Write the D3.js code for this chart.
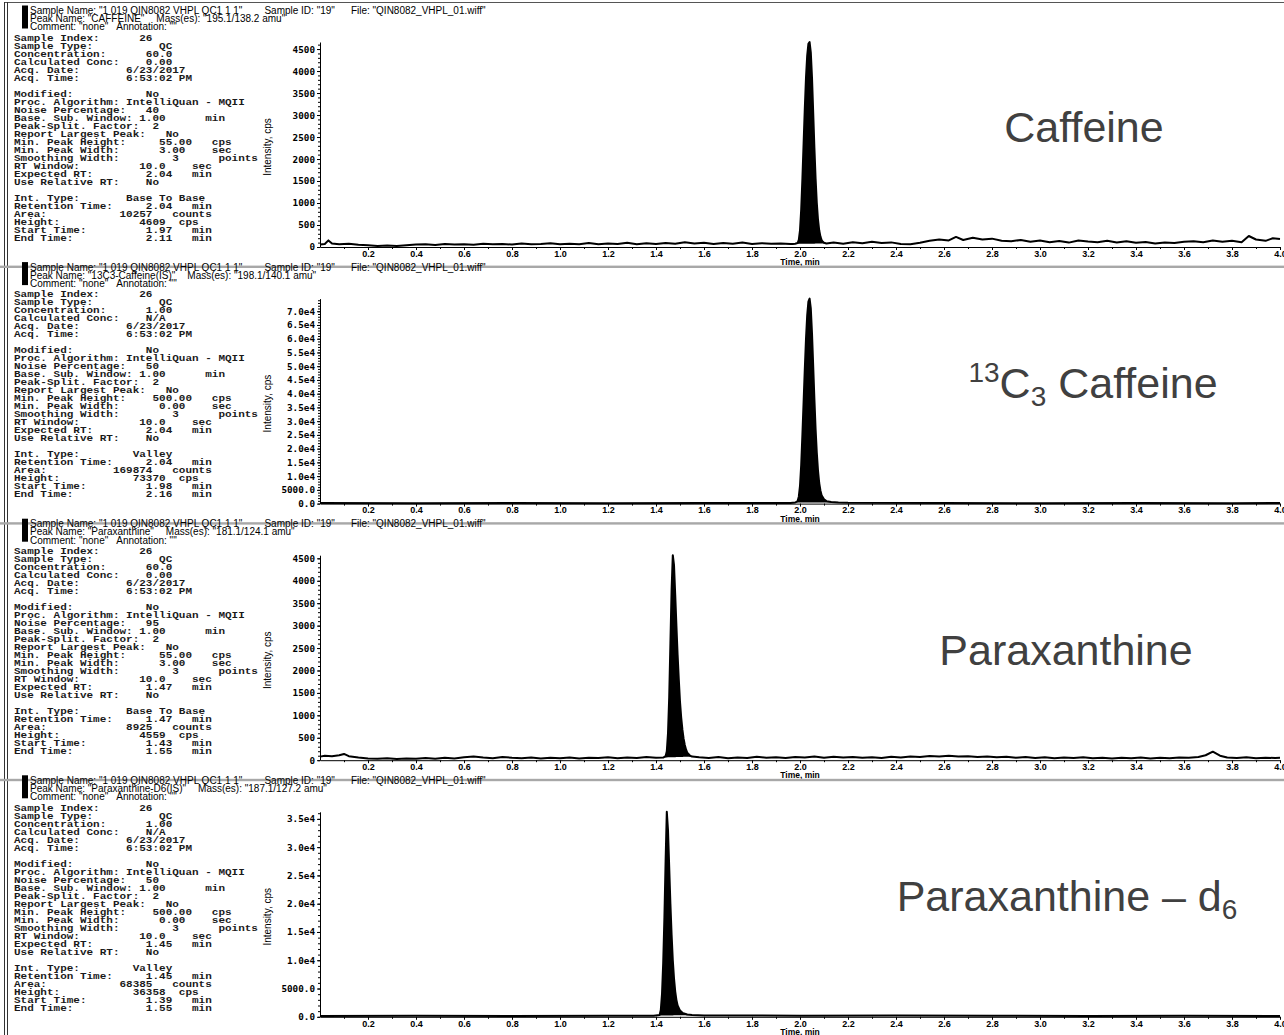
<!DOCTYPE html>
<html>
<head>
<meta charset="utf-8">
<script src="https://cdn.jsdelivr.net/npm/d3@7"></script>
<style>
body{margin:0;background:#fff;}
svg{display:block;}
.info{font-family:"Liberation Mono","Courier New",monospace;font-size:9.5px;font-weight:bold;white-space:pre;fill:#1a1a1a;}
.hdr{font-family:"Liberation Sans",Arial,sans-serif;font-size:10px;white-space:pre;fill:#000;}
.tick text{font-family:"Liberation Sans",Arial,sans-serif;font-size:9px;font-weight:bold;fill:#000;}
.yaxis .tick text{font-family:"DejaVu Sans Mono","Liberation Mono",monospace;font-size:9.3px;}
.axis path,.axis line{stroke:#000;stroke-width:1;}
.ylab{font-family:"Liberation Sans Narrow","Liberation Sans",Arial,sans-serif;font-size:10px;}
.xlab{font-family:"Liberation Sans",Arial,sans-serif;font-size:8.5px;font-weight:bold;}
.compound{font-family:"Liberation Sans",Arial,sans-serif;font-size:43px;fill:#404040;}
</style>
</head>
<body>
<div id="chart"></div>
<script>
// ---- chromatogram traces, [time (min), intensity (cps)] ----
const caffeineTrace = [
  [0.00,55],[0.02,70],[0.035,150],[0.05,80],[0.08,60],[0.12,75],[0.16,50],[0.20,40],[0.24,25],[0.28,35],
  [0.32,20],[0.36,40],[0.40,55],[0.44,60],[0.48,45],[0.52,70],[0.56,55],[0.60,65],[0.64,50],[0.68,75],
  [0.72,60],[0.76,70],[0.80,55],[0.84,80],[0.88,60],[0.92,70],[0.96,85],[1.00,60],[1.04,75],[1.08,65],
  [1.12,90],[1.16,60],[1.20,80],[1.24,70],[1.28,95],[1.32,65],[1.36,85],[1.40,70],[1.44,90],[1.48,75],
  [1.52,110],[1.56,80],[1.60,95],[1.64,70],[1.68,90],[1.72,75],[1.76,100],[1.80,70],[1.84,85],[1.88,75],
  [1.92,80],[1.96,70],[1.97,70],[1.98,75],[1.99,90],[1.995,160],[2.00,380],[2.005,850],[2.01,1550],
  [2.015,2350],[2.02,3150],[2.025,3850],[2.03,4350],[2.035,4620],[2.04,4660],[2.045,4420],[2.05,3850],
  [2.055,3050],[2.06,2250],[2.065,1550],[2.07,1000],[2.075,620],[2.08,380],[2.085,240],[2.09,160],
  [2.095,120],[2.10,95],[2.11,80],[2.14,100],[2.18,75],[2.22,110],[2.26,85],[2.30,120],[2.34,90],
  [2.38,105],[2.42,70],[2.46,60],[2.50,95],[2.54,140],[2.58,170],[2.62,150],[2.65,230],[2.68,160],
  [2.72,210],[2.76,170],[2.80,190],[2.84,140],[2.88,130],[2.92,160],[2.96,120],[3.00,150],[3.04,110],
  [3.08,135],[3.12,100],[3.16,150],[3.20,125],[3.24,110],[3.28,140],[3.32,100],[3.36,130],[3.40,95],
  [3.44,115],[3.48,80],[3.52,100],[3.56,90],[3.60,120],[3.64,130],[3.68,110],[3.72,150],[3.76,120],
  [3.80,140],[3.84,110],[3.87,250],[3.90,170],[3.94,140],[3.97,200],[4.00,180]
];
const c13CaffeineTrace = [
  [0.00,200],[0.40,150],[0.80,200],[1.20,150],[1.60,200],[1.96,250],[1.98,400],[1.99,900],[1.995,2500],
  [2.00,6500],[2.005,14000],[2.01,25000],[2.015,37000],[2.02,49000],[2.025,60000],[2.03,68500],
  [2.035,73500],[2.04,74600],[2.045,71000],[2.05,62000],[2.055,50000],[2.06,38000],[2.065,27000],
  [2.07,18500],[2.075,12000],[2.08,7500],[2.085,4800],[2.09,3000],[2.10,1600],[2.11,900],[2.13,600],
  [2.16,400],[2.20,300],[2.60,200],[3.00,150],[3.40,200],[3.80,150],[4.00,200]
];
const paraxanthineTrace = [
  [0.00,80],[0.02,100],[0.05,90],[0.08,110],[0.10,140],[0.12,90],[0.16,60],[0.20,40],[0.24,30],[0.28,45],
  [0.32,25],[0.36,40],[0.40,35],[0.44,50],[0.48,30],[0.52,55],[0.56,40],[0.60,65],[0.64,80],[0.68,60],
  [0.72,45],[0.76,70],[0.80,55],[0.84,45],[0.88,60],[0.92,40],[0.96,55],[1.00,45],[1.04,60],[1.08,40],
  [1.12,55],[1.16,50],[1.20,65],[1.24,45],[1.28,60],[1.32,50],[1.36,70],[1.40,55],[1.43,60],[1.44,90],
  [1.445,200],[1.45,600],[1.455,1400],[1.46,2600],[1.465,3800],[1.47,4570],[1.475,4350],[1.48,3700],
  [1.485,3000],[1.49,2350],[1.495,1800],[1.50,1300],[1.505,950],[1.51,680],[1.515,480],[1.52,340],
  [1.525,240],[1.53,170],[1.54,110],[1.55,80],[1.58,65],[1.62,50],[1.66,70],[1.70,45],[1.74,60],
  [1.78,50],[1.82,75],[1.86,55],[1.90,65],[1.94,50],[1.98,70],[2.02,60],[2.06,80],[2.10,55],[2.14,75],
  [2.18,60],[2.22,70],[2.26,55],[2.30,65],[2.34,50],[2.38,75],[2.42,60],[2.46,80],[2.50,70],[2.54,95],
  [2.58,85],[2.62,100],[2.66,80],[2.70,90],[2.74,70],[2.78,85],[2.82,65],[2.86,75],[2.90,55],[2.94,70],
  [2.98,50],[3.02,65],[3.06,45],[3.10,60],[3.14,50],[3.18,65],[3.22,45],[3.26,55],[3.30,40],[3.34,55],
  [3.38,45],[3.42,60],[3.46,40],[3.50,55],[3.54,45],[3.58,60],[3.62,55],[3.66,70],[3.69,110],[3.72,190],
  [3.75,100],[3.78,60],[3.82,50],[3.86,65],[3.90,45],[3.94,55],[3.98,50],[4.00,55]
];
const paraxanthineD6Trace = [
  [0.00,150],[0.40,200],[0.80,150],[1.20,200],[1.39,200],[1.415,300],[1.42,1200],[1.425,4000],
  [1.43,9500],[1.435,17500],[1.44,27500],[1.445,36250],[1.45,33000],[1.455,26500],[1.46,20000],
  [1.465,14500],[1.47,10000],[1.475,6800],[1.48,4500],[1.485,3000],[1.49,2000],[1.50,1100],[1.51,700],
  [1.53,400],[1.55,300],[1.60,250],[2.00,200],[2.40,250],[2.80,200],[3.20,150],[3.60,200],[4.00,150]
];

// ---- axis ticks and labels ----
const xTicks = [0.2,0.4,0.6,0.8,1.0,1.2,1.4,1.6,1.8,2.0,2.2,2.4,2.6,2.8,3.0,3.2,3.4,3.6,3.8,4.0];
const xTickLabels = ['0.2','0.4','0.6','0.8','1.0','1.2','1.4','1.6','1.8','2.0','2.2','2.4','2.6','2.8','3.0','3.2','3.4','3.6','3.8','4.0'];
const yTicksSmall = [0,500,1000,1500,2000,2500,3000,3500,4000,4500];
const yTickLabelsSmall = ['0','500','1000','1500','2000','2500','3000','3500','4000','4500'];
const yTicksC13 = [0,5000,10000,15000,20000,25000,30000,35000,40000,45000,50000,55000,60000,65000,70000];
const yTickLabelsC13 = ['0.0','5000.0','1.0e4','1.5e4','2.0e4','2.5e4','3.0e4','3.5e4','4.0e4','4.5e4','5.0e4','5.5e4','6.0e4','6.5e4','7.0e4'];
const yTicksD6 = [0,5000,10000,15000,20000,25000,30000,35000];
const yTickLabelsD6 = ['0.0','5000.0','1.0e4','1.5e4','2.0e4','2.5e4','3.0e4','3.5e4'];
const yMax = [4660, 74600, 4570, 36250];
const yMinorStep = [100, 1000, 100, 1000];

// ---- per-peak results ----
const peakNames = ['"CAFFEINE"','"13C3-Caffeine(IS)"','"Paraxanthine"','"Paraxanthine-D6(IS)"'];
const masses = ['"195.1/138.2 amu"','"198.1/140.1 amu"','"181.1/124.1 amu"','"187.1/127.2 amu"'];
const concentrations = ['60.0','1.00','60.0','1.00'];
const calcConcs = ['0.00','N/A','0.00','N/A'];
const noisePct = ['40','50','95','50'];
const minPeakHeights = ['55.00','500.00','55.00','500.00'];
const minPeakWidths = ['3.00','0.00','3.00','0.00'];
const expectedRT = ['2.04','2.04','1.47','1.45'];
const intTypes = ['Base To Base','Valley','Base To Base','Valley'];
const retentionTimes = ['2.04','2.04','1.47','1.45'];
const areas = ['10257','169874','8925','68385'];
const heights = ['4609','73370','4559','36358'];
const startTimes = [1.97, 1.98, 1.43, 1.39];
const endTimes = [2.11, 2.16, 1.55, 1.55];

const traces = [caffeineTrace, c13CaffeineTrace, paraxanthineTrace, paraxanthineD6Trace];
const yTicksAll = [yTicksSmall, yTicksC13, yTicksSmall, yTicksD6];
const yLabelsAll = [yTickLabelsSmall, yTickLabelsC13, yTickLabelsSmall, yTickLabelsD6];

// compound names drawn at the right, [text, 'sup' | 'sub' | null]
const compoundLabels = [
  [['Caffeine', null]],
  [['13','sup'],['C',null],['3','sub'],[' Caffeine',null]],
  [['Paraxanthine', null]],
  [['Paraxanthine \u2013 d', null],['6','sub']]
];
const labelPos = [[1084,141.5],[1093,141],[1066,151.5],[1067,141.5]];

const W = 1284, H = 1035, panelH = 256.6;
const charW = 6.6, infoX = 14;

function row(label, vcol, value, ucol, unit){
  let s = label.padEnd(vcol) + (value || '');
  if (unit) s = s.padEnd(ucol) + unit;
  return s;
}

function infoLines(k){
  return [
    row('Sample Index:', 19, '26'),
    row('Sample Type:', 22, 'QC'),
    row('Concentration:', 20, concentrations[k]),
    row('Calculated Conc:', 20, calcConcs[k]),
    row('Acq. Date:', 17, '6/23/2017'),
    row('Acq. Time:', 17, '6:53:02 PM'),
    '',
    row('Modified:', 20, 'No'),
    row('Proc. Algorithm:', 17, 'IntelliQuan - MQII'),
    row('Noise Percentage:', 20, noisePct[k]),
    row('Base. Sub. Window:', 19, '1.00', 29, 'min'),
    row('Peak-Split. Factor:', 21, '2'),
    row('Report Largest Peak:', 23, 'No'),
    row('Min. Peak Height:', 27 - minPeakHeights[k].length, minPeakHeights[k], 30, 'cps'),
    row('Min. Peak Width:', 22, minPeakWidths[k], 30, 'sec'),
    row('Smoothing Width:', 24, '3', 31, 'points'),
    row('RT Window:', 19, '10.0', 27, 'sec'),
    row('Expected RT:', 20, expectedRT[k], 27, 'min'),
    row('Use Relative RT:', 20, 'No'),
    '',
    row('Int. Type:', intTypes[k] === 'Valley' ? 18 : 17, intTypes[k]),
    row('Retention Time:', 20, retentionTimes[k], 27, 'min'),
    row('Area:', 21 - areas[k].length, areas[k], 24, 'counts'),
    row('Height:', 23 - heights[k].length, heights[k], 25, 'cps'),
    row('Start Time:', 20, startTimes[k].toFixed(2), 27, 'min'),
    row('End Time:', 20, endTimes[k].toFixed(2), 27, 'min')
  ];
}

const svg = d3.select('#chart').append('svg').attr('width', W).attr('height', H);
svg.append('rect').attr('width', W).attr('height', H).attr('fill', '#fff');

// outer frame: top rule and double left rule
svg.append('line').attr('x1', 4).attr('x2', W).attr('y1', 2.5).attr('y2', 2.5).attr('stroke', '#555');
[4.5, 7.5].forEach(xv => svg.append('line').attr('x1', xv).attr('x2', xv)
  .attr('y1', 2).attr('y2', H).attr('stroke', '#333'));

const x = d3.scaleLinear().domain([0, 4]).range([320, 1280]);
// monospace scale so that one character cell is charW wide
const monoScale = charW / (9.5 * 0.6);

// place a text after another one with a gap
function after(g, prev, gap, yy, txt){
  const x0 = +prev.attr('x') + prev.node().getComputedTextLength() + gap;
  return g.append('text').attr('class', 'hdr').attr('x', x0).attr('y', yy).text(txt);
}

traces.forEach((trace, k) => {
  const g = svg.append('g').attr('transform', `translate(0,${k * panelH})`);
  const y = d3.scaleLinear().domain([0, yMax[k]]).range([247, 42]);

  // header
  g.append('rect').attr('x', 22).attr('y', 5.5).attr('width', 6).attr('height', 23).attr('fill', '#000');
  const s1 = g.append('text').attr('class', 'hdr').attr('x', 30).attr('y', 14).text('Sample Name: "1 019 QIN8082 VHPL QC1 1 1"');
  const s2 = after(g, s1, 22, 14, 'Sample ID: "19"');
  after(g, s2, 16, 14, 'File: "QIN8082_VHPL_01.wiff"');
  const p1 = g.append('text').attr('class', 'hdr').attr('x', 30).attr('y', 22.2).text('Peak Name: ' + peakNames[k]);
  after(g, p1, 12, 22.2, 'Mass(es): ' + masses[k]);
  const c1 = g.append('text').attr('class', 'hdr').attr('x', 30).attr('y', 30.4).text('Comment: "none"');
  after(g, c1, 8, 30.4, 'Annotation: ""');

  // info block (monospace, stretched horizontally like the instrument print-out)
  g.append('g').attr('transform', `translate(${infoX},0) scale(${monoScale},1)`)
    .selectAll('text').data(infoLines(k)).join('text')
    .attr('class', 'info').attr('x', 0).attr('y', (d, i) => 40.8 + 8 * i).text(d => d);

  // y axis
  const yMinor = d3.range(0, yMax[k], yMinorStep[k]);
  g.append('g').attr('class', 'axis').attr('transform', 'translate(320,0)')
    .call(d3.axisLeft(y).tickValues(yMinor).tickSize(2).tickFormat(''))
    .call(a => a.select('.domain').remove());
  g.append('g').attr('class', 'axis yaxis').attr('transform', 'translate(320,0)')
    .call(d3.axisLeft(y).tickValues(yTicksAll[k]).tickFormat((d, i) => yLabelsAll[k][i])
      .tickSize(3).tickSizeOuter(0).tickPadding(2))
    .call(a => a.attr('font-family', null).attr('font-size', null));

  // x axis
  g.append('g').attr('class', 'axis').attr('transform', 'translate(0,247)')
    .call(d3.axisBottom(x).tickValues(d3.range(0.1, 4.0, 0.2)).tickSize(2).tickFormat(''))
    .call(a => a.select('.domain').remove());
  g.append('g').attr('class', 'axis').attr('transform', 'translate(0,247)')
    .call(d3.axisBottom(x).tickValues(xTicks).tickFormat((d, i) => xTickLabels[i])
      .tickSize(3).tickSizeOuter(0).tickPadding(0.5))
    .call(a => a.attr('font-family', null).attr('font-size', null));

  g.append('text').attr('class', 'xlab').attr('x', x(2.0)).attr('y', 265.2)
    .attr('text-anchor', 'middle').text('Time, min');
  g.append('text').attr('class', 'ylab')
    .attr('transform', `translate(271,147) rotate(-90)`)
    .attr('text-anchor', 'middle').text('Intensity, cps');

  // integrated area (base to base between start and end)
  const inPeak = trace.filter(d => d[0] >= startTimes[k] && d[0] <= endTimes[k]);
  const q0 = inPeak[0], q1 = inPeak[inPeak.length - 1];
  const base = t => q0[1] + (q1[1] - q0[1]) * (t - q0[0]) / (q1[0] - q0[0]);
  g.append('path').datum(inPeak)
    .attr('d', d3.area().x(d => x(d[0])).y0(d => y(base(d[0]))).y1(d => y(d[1])))
    .attr('fill', '#000');

  g.append('path').datum(trace)
    .attr('d', d3.line().x(d => x(d[0])).y(d => y(d[1])))
    .attr('fill', 'none').attr('stroke', '#000').attr('stroke-width', 2)
    .attr('stroke-linejoin', 'round');

  // compound label
  const lab = g.append('text').attr('class', 'compound')
    .attr('x', labelPos[k][0]).attr('y', labelPos[k][1]).attr('text-anchor', 'middle');
  let shift = 0;
  compoundLabels[k].forEach(([txt, kind]) => {
    const target = kind === 'sup' ? -16 : kind === 'sub' ? 8 : 0;
    lab.append('tspan').attr('dy', target - shift)
      .attr('font-size', kind ? 28 : null).text(txt);
    shift = target;
  });

  // separator below panel
  if (k < 3) {
    g.append('rect').attr('x', 0).attr('y', 265.6).attr('width', W).attr('height', 2.4).attr('fill', '#a8a8a8');
  }
});
</script>
</body>
</html>
